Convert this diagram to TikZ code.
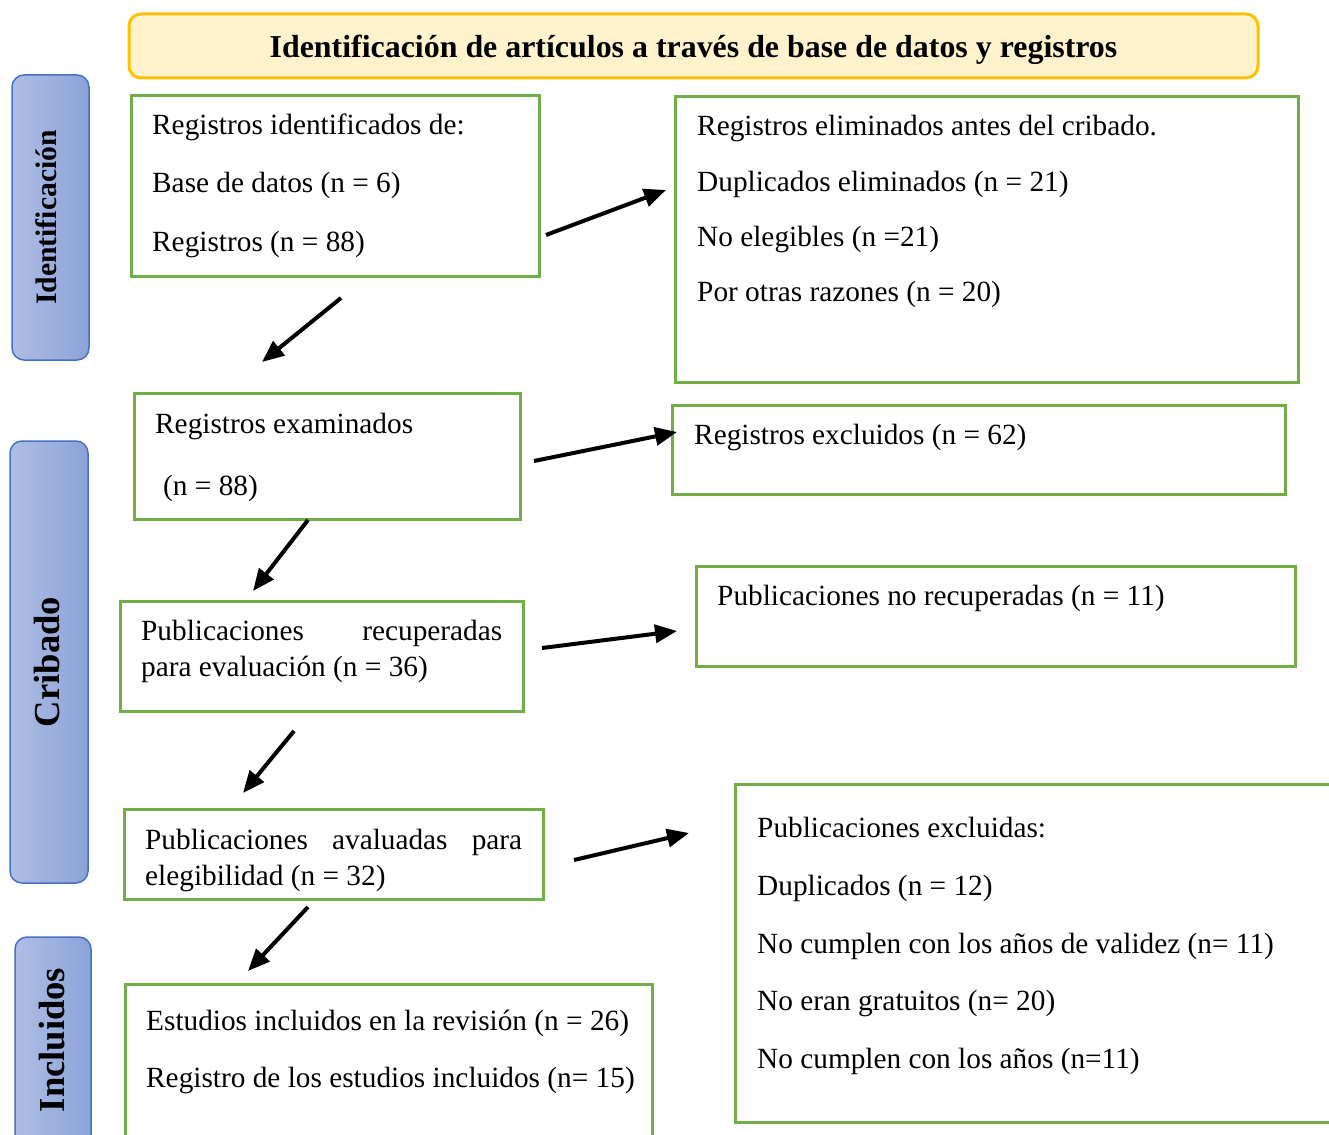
\documentclass[tikz,border=0pt]{standalone}
\usepackage{fontspec}
\setmainfont{Liberation Serif}
\usetikzlibrary{arrows.meta}
\definecolor{gbord}{HTML}{70AD47}
\definecolor{obord}{HTML}{FFC000}
\definecolor{ofill}{HTML}{FFF2CC}
\definecolor{bbord}{HTML}{4472C4}
\definecolor{bleft}{HTML}{AEBEE4}
\definecolor{bright}{HTML}{8CA2D8}
\tikzset{
  gbox/.style={draw=gbord, line width=3pt, fill=white, inner sep=0pt},
  sidebox/.style={draw=bbord, line width=1.5pt, rounded corners=12pt, left color=bleft, right color=bright, inner sep=0pt},
  txt/.style={anchor=base west, inner sep=0pt, font=\fontsize{29.3}{35}\selectfont},
  sidetxt/.style={rotate=90, inner sep=0pt, font=\bfseries\fontsize{#1}{40}\selectfont},
  arr/.style={line width=4pt, -{Triangle[length=22pt,width=18pt]}},
}
\begin{document}
\begin{tikzpicture}[x=1pt,y=-1pt]
\useasboundingbox (0,0) rectangle (1329,1134);
\clip (0,0) rectangle (1329,1134);

% header
\node[draw=obord, line width=3pt, fill=ofill, rounded corners=12pt, minimum width=1129pt, minimum height=64pt, inner sep=0pt] (head) at (693.5,46) {};
\node[anchor=base, inner sep=0pt, font=\bfseries\fontsize{31.9}{38}\selectfont] (headt) at (693.5,58) {Identificación de artículos a través de base de datos y registros};

% side boxes
\node[sidebox, minimum width=77pt, minimum height=285pt] (s1) at (50.5,217.5) {};
\node[sidetxt=29.7] (s1t) at (46,217.5) {Identificación};
\node[sidebox, minimum width=78pt, minimum height=442pt] (s2) at (49,662) {};
\node[sidetxt=36.6] (s2t) at (47,662) {Cribado};
\node[sidebox, minimum width=76pt, minimum height=213pt] (s3) at (53,1043.5) {};
\node[sidetxt=36.6] (s3t) at (52,1040) {Incluidos};

% boxes
\node[gbox, minimum width=408pt, minimum height=180pt] (b1) at (335,186) {};
\node[txt] (b1a) at (152,135) {Registros identificados de:};
\node[txt] (b1b) at (152,193) {Base de datos (n = 6)};
\node[txt] (b1c) at (152,251) {Registros (n = 88)};

\node[gbox, minimum width=623pt, minimum height=285pt] (b2) at (986.5,239.5) {};
\node[txt] (b2a) at (697,136) {Registros eliminados antes del cribado.};
\node[txt] (b2b) at (697,191) {Duplicados eliminados (n = 21)};
\node[txt] (b2c) at (697,246) {No elegibles (n =21)};
\node[txt] (b2d) at (697,301) {Por otras razones (n = 20)};

\node[gbox, minimum width=386pt, minimum height=126pt] (b3) at (327,456) {};
\node[txt] (b3a) at (155,433) {Registros examinados};
\node[txt] (b3b) at (163,495) {(n = 88)};

\node[gbox, minimum width=613pt, minimum height=89pt] (b4) at (978.5,449.5) {};
\node[txt] (b4a) at (694,444) {Registros excluidos (n = 62)};

\node[gbox, minimum width=403pt, minimum height=110pt] (b5) at (321.5,656) {};
\node[txt] (b5a) at (141,640) {\hbox to 361pt{Publicaciones\hfill recuperadas}};
\node[txt] (b5b) at (141,676) {para evaluación (n = 36)};

\node[gbox, minimum width=599pt, minimum height=100pt] (b6) at (995.5,616) {};
\node[txt] (b6a) at (717,605) {Publicaciones no recuperadas (n = 11)};

\node[gbox, minimum width=419pt, minimum height=90pt] (b7) at (333.5,854) {};
\node[txt] (b7a) at (145,849) {\hbox to 377pt{Publicaciones\hfill avaluadas\hfill para}};
\node[txt] (b7b) at (145,885) {elegibilidad (n = 32)};

\node[gbox, minimum width=610pt, minimum height=338pt] (b8) at (1040,953) {};
\node[txt] (b8a) at (757,837) {Publicaciones excluidas:};
\node[txt] (b8b) at (757,895) {Duplicados (n = 12)};
\node[txt] (b8c) at (757,953) {No cumplen con los años de validez (n= 11)};
\node[txt] (b8d) at (757,1010) {No eran gratuitos (n= 20)};
\node[txt] (b8e) at (757,1068) {No cumplen con los años (n=11)};

\node[gbox, minimum width=527pt, minimum height=161pt] (b9) at (388.5,1064.5) {};
\node[txt] (b9a) at (146,1030) {Estudios incluidos en la revisión (n = 26)};
\node[txt] (b9b) at (146,1087) {Registro de los estudios incluidos (n= 15)};

% arrow end points
\coordinate (a1s) at (546,235); \coordinate (a1e) at (666,190);
\coordinate (a2s) at (341,298); \coordinate (a2e) at (262,362);
\coordinate (a3s) at (534,461); \coordinate (a3e) at (677,432);
\coordinate (a4s) at (308,520); \coordinate (a4e) at (253,591);
\coordinate (a5s) at (542,648); \coordinate (a5e) at (677,631);
\coordinate (a6s) at (294,731); \coordinate (a6e) at (243,793);
\coordinate (a7s) at (574,860); \coordinate (a7e) at (689,833);
\coordinate (a8s) at (308,907); \coordinate (a8e) at (248,971);

\draw[arr] (a1s) -- (a1e);
\draw[arr] (a2s) -- (a2e);
\draw[arr] (a3s) -- (a3e);
\draw[arr] (a4s) -- (a4e);
\draw[arr] (a5s) -- (a5e);
\draw[arr] (a6s) -- (a6e);
\draw[arr] (a7s) -- (a7e);
\draw[arr] (a8s) -- (a8e);
\end{tikzpicture}
\end{document}
